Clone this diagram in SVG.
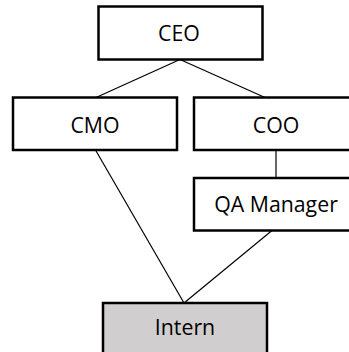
<svg xmlns="http://www.w3.org/2000/svg" width="349" height="352" viewBox="0 0 349 352">
  <style>
    .box { fill: #ffffff; stroke: #000000; stroke-width: 2.5; }
    .intern { fill: #d0cece; }
    .lbl { font-family: "Open Sans", "Liberation Sans", sans-serif; font-size: 21.3px; fill: #000000; text-anchor: middle; }
    .conn { stroke: #000000; stroke-width: 1.2; fill: none; }
  </style>
  <rect x="0" y="0" width="349" height="352" fill="#ffffff"/>
  <g id="connectors">
    <line class="conn" x1="180" y1="59.5" x2="96" y2="97.5"/>
    <line class="conn" x1="180" y1="59.5" x2="265" y2="97.5"/>
    <line class="conn" x1="276" y1="149.5" x2="276" y2="178"/>
    <line class="conn" x1="95.5" y1="150" x2="184" y2="303"/>
    <line class="conn" x1="272" y1="230.5" x2="184" y2="303"/>
  </g>
  <g id="ceo">
    <rect class="box" x="98.5" y="6.5" width="164" height="53"/>
    <text class="lbl" x="179" y="41">CEO</text>
  </g>
  <g id="cmo">
    <rect class="box" x="13" y="97.5" width="164" height="52.5"/>
    <text class="lbl" x="95" y="133">CMO</text>
  </g>
  <g id="coo">
    <rect class="box" x="194" y="97.5" width="164" height="52.5"/>
    <text class="lbl" x="276" y="133">COO</text>
  </g>
  <g id="qa-manager">
    <rect class="box" x="194" y="178" width="164" height="52.5"/>
    <text class="lbl" x="276" y="212">QA Manager</text>
  </g>
  <g id="intern">
    <rect class="box intern" x="103" y="303" width="164" height="53"/>
    <text class="lbl" x="185" y="335">Intern</text>
  </g>
</svg>
